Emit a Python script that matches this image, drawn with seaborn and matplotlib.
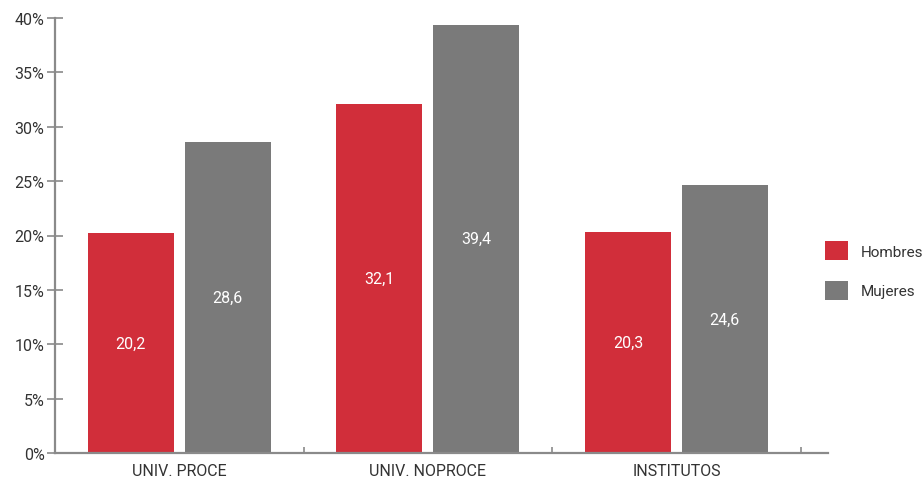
import matplotlib
matplotlib.use("Agg")
import matplotlib.pyplot as plt
import seaborn as sns
import pandas as pd
from matplotlib.patches import Patch
from matplotlib.ticker import FixedLocator, PercentFormatter

categories = ["UNIV. PROCE", "UNIV. NOPROCE", "INSTITUTOS"]
hombres = [20.2, 32.1, 20.3]
mujeres = [28.6, 39.4, 24.6]
series = ["Hombres", "Mujeres"]
colors = ["#D12E3A", "#7A7A7A"]

df = pd.DataFrame({
    "categoria": categories * 2,
    "grupo": [series[0]] * 3 + [series[1]] * 3,
    "valor": hombres + mujeres,
})

sns.set_style("white")
plt.rcParams["font.family"] = ["Roboto", "DejaVu Sans"]

fig = plt.figure(figsize=(9.22, 4.81), dpi=100)
ax = fig.add_axes([55 / 922, 1 - 454 / 481, (828 - 55) / 922, (454 - 19) / 481])

sns.barplot(data=df, x="categoria", y="valor", hue="grupo", order=categories,
            hue_order=series, palette=colors, width=0.78, gap=0.11,
            saturation=1, legend=False, linewidth=0, ax=ax)

ax.set_xlim(-0.5, 2.61)
ax.set_ylim(0, 40)
ax.set_xlabel("")
ax.set_ylabel("")

spine_col = "#8a8a8a"
text_col = "#333333"
for side in ("top", "right"):
    ax.spines[side].set_visible(False)
for side in ("left", "bottom"):
    ax.spines[side].set_color(spine_col)
    ax.spines[side].set_linewidth(1.6)

ax.yaxis.set_major_locator(FixedLocator(range(0, 41, 5)))
ax.yaxis.set_major_formatter(PercentFormatter(decimals=0))
ax.tick_params(axis="y", direction="inout", length=11, width=1.2, color=spine_col,
               labelsize=11.5, labelcolor=text_col, pad=2, left=True)

ax.xaxis.set_major_locator(FixedLocator([0, 1, 2]))
ax.set_xticklabels(categories)
ax.xaxis.set_minor_locator(FixedLocator([0.5, 1.5, 2.5]))
ax.tick_params(axis="x", which="major", length=0, labelsize=11.5, labelcolor=text_col, pad=7)
ax.tick_params(axis="x", which="minor", direction="in", length=4, width=1.2,
               color=spine_col, bottom=True)

for container in ax.containers:
    for bar in container:
        h = bar.get_height()
        ax.text(bar.get_x() + bar.get_width() / 2, h / 2,
                f"{h:.1f}".replace(".", ","), ha="center", va="center",
                color="white", fontsize=11.5)

handles = [Patch(facecolor=c, edgecolor="none") for c in colors]
fig.legend(handles, series, loc="center left", bbox_to_anchor=(825 / 922, 1 - 271.5 / 481),
           frameon=False, fontsize=11, borderpad=0, borderaxespad=0,
           handlelength=1.5, handleheight=1.5, labelspacing=1.37,
           handletextpad=0.85, labelcolor=text_col)

fig.savefig("out.png", dpi=100)
